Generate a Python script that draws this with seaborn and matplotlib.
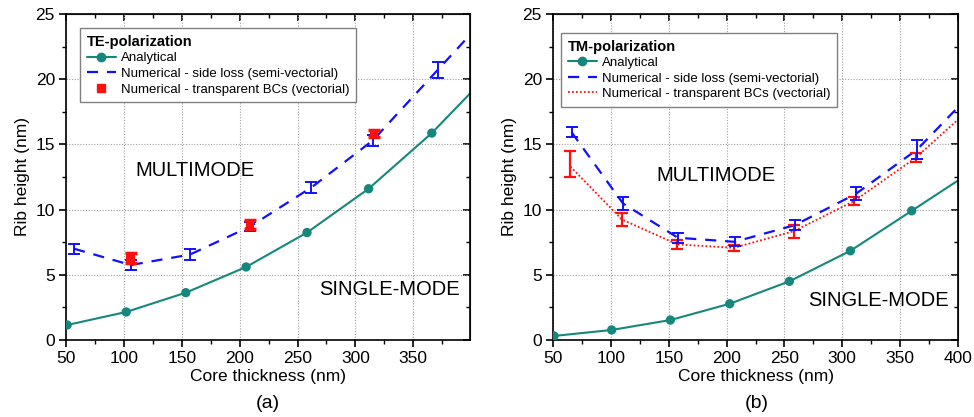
import numpy as np
import pandas as pd
import matplotlib
matplotlib.use("Agg")
import matplotlib.pyplot as plt
import seaborn as sns
from matplotlib.lines import Line2D
from matplotlib.ticker import MultipleLocator

# ---------------- data ----------------
# TE polarization
te_ana_x = [51, 102, 153.5, 205.6, 258.2, 311.4, 366, 399]
te_ana_y = [1.15, 2.15, 3.63, 5.6, 8.24, 11.6, 15.87, 18.9]
te_ana_marked = [True, True, True, True, True, True, True, False]

te_side_x = [57, 106, 157, 209, 262, 315, 371, 399]
te_side_y = [7.0, 5.75, 6.55, 8.7, 11.7, 15.3, 20.7, 23.4]
te_side_err = [0.4, 0.35, 0.4, 0.35, 0.42, 0.4, 0.6, 0.0]
te_side_has_err = [True, True, True, True, True, True, True, False]

te_tbc_x = [106, 209, 316]
te_tbc_y = [6.27, 8.88, 15.82]
te_tbc_err = [0.4, 0.35, 0.25]

# TM polarization
tm_ana_x = [50.9, 100.7, 151.4, 202.7, 254.3, 307, 360, 400]
tm_ana_y = [0.31, 0.77, 1.53, 2.78, 4.5, 6.84, 9.91, 12.23]
tm_ana_marked = [True, True, True, True, True, True, True, False]

tm_side_x = [66, 110.5, 158, 207, 259, 311.6, 364.6, 400]
tm_side_y = [15.94, 10.47, 7.84, 7.53, 8.81, 11.2, 14.6, 17.85]
tm_side_err = [0.4, 0.5, 0.4, 0.35, 0.4, 0.5, 0.7, 0.0]
tm_side_has_err = [True, True, True, True, True, True, True, False]

tm_tbc_x = [65, 109.6, 157.5, 206.4, 258.3, 310.1, 363.4, 400]
tm_tbc_y = [13.3, 9.24, 7.33, 7.07, 8.35, 10.65, 13.97, 16.9]
tm_tbc_err_lo = [0.8, 0.5, 0.33, 0.25, 0.55, 0.3, 0.35, 0.0]
tm_tbc_err_hi = [1.2, 0.5, 0.33, 0.25, 0.45, 0.3, 0.35, 0.0]
tm_tbc_has_err = [True, True, True, True, True, True, True, False]

TEAL = "#16877d"
BLUE = "#1010ff"
RED = "#ff1010"

sns.set_style("ticks")
plt.rcParams["font.family"] = ["Liberation Sans", "DejaVu Sans"]
plt.rcParams["text.color"] = "black"
plt.rcParams["axes.labelcolor"] = "black"
plt.rcParams["xtick.color"] = "black"
plt.rcParams["ytick.color"] = "black"
plt.rcParams["legend.labelcolor"] = "black"

fig = plt.figure(figsize=(9.74, 4.17), dpi=100)
axL = fig.add_axes([66 / 974, 1 - 340 / 417, 404 / 974, 326 / 417])
axR = fig.add_axes([553 / 974, 1 - 340 / 417, 405 / 974, 326 / 417])


def style_axes(ax, xmax, xticks):
    ax.set_xlim(50, xmax)
    ax.set_ylim(0, 25)
    ax.set_xticks(xticks)
    ax.set_yticks([0, 5, 10, 15, 20, 25])
    ax.xaxis.set_minor_locator(MultipleLocator(25))
    ax.yaxis.set_minor_locator(MultipleLocator(2.5))
    ax.grid(True, which="major", linestyle=(0, (1, 1.5)), color="#a0a0a0", linewidth=0.8)
    ax.tick_params(axis="both", which="major", direction="out", length=5, width=1.2,
                   labelsize=12.5, color="black", labelcolor="black", pad=3)
    ax.tick_params(axis="both", which="minor", direction="out", length=3, width=1.0,
                   color="black")
    for s in ax.spines.values():
        s.set_linewidth(1.2)
        s.set_color("black")
        s.set_visible(True)
    # mirrored inward ticks on top / right
    top = ax.secondary_xaxis("top")
    top.set_xticks(xticks)
    top.xaxis.set_minor_locator(MultipleLocator(25))
    top.tick_params(which="major", direction="in", length=5, width=1.2, labeltop=False)
    top.tick_params(which="minor", direction="in", length=3, width=1.0, labeltop=False)
    right = ax.secondary_yaxis("right")
    right.set_yticks([0, 5, 10, 15, 20, 25])
    right.yaxis.set_minor_locator(MultipleLocator(2.5))
    right.tick_params(which="major", direction="in", length=5, width=1.2, labelright=False)
    right.tick_params(which="minor", direction="in", length=3, width=1.0, labelright=False)


def draw_analytical(ax, xs, ys, marked):
    df = pd.DataFrame({"x": xs, "y": ys, "m": marked})
    sns.lineplot(data=df, x="x", y="y", ax=ax, color=TEAL, linewidth=1.5,
                 sort=False, estimator=None)
    dm = df[df["m"]]
    sns.scatterplot(data=dm, x="x", y="y", ax=ax, color=TEAL, s=45,
                    edgecolor="none", zorder=4)


def draw_side(ax, xs, ys, errs, has_err):
    df = pd.DataFrame({"x": xs, "y": ys, "e": errs, "h": has_err})
    sns.lineplot(data=df, x="x", y="y", ax=ax, color=BLUE, linewidth=1.6,
                 sort=False, estimator=None, dashes=False)
    ax.lines[-1].set_dashes((5, 4))
    de = df[df["h"]]
    ax.errorbar(de["x"], de["y"], yerr=de["e"], fmt="none", ecolor=BLUE,
                elinewidth=1.4, capsize=4, capthick=1.4, zorder=5)


def finish_labels(ax):
    ax.set_xlabel("Core thickness (nm)", fontsize=12.5, labelpad=2, color="black")
    ax.set_ylabel("Rib height (nm)", fontsize=12.5, labelpad=4, color="black")


# ---------------- left panel (TE) ----------------
style_axes(axL, 399, [50, 100, 150, 200, 250, 300, 350])
draw_analytical(axL, te_ana_x, te_ana_y, te_ana_marked)
draw_side(axL, te_side_x, te_side_y, te_side_err, te_side_has_err)
dt = pd.DataFrame({"x": te_tbc_x, "y": te_tbc_y, "e": te_tbc_err})
axL.errorbar(dt["x"], dt["y"], yerr=dt["e"], fmt="none", ecolor=RED,
             elinewidth=2.5, capsize=4, capthick=2.5, zorder=6)
sns.scatterplot(data=dt, x="x", y="y", ax=axL, color=RED, marker="s", s=40,
                edgecolor="none", zorder=7)
finish_labels(axL)
axL.text(110, 13.0, "MULTIMODE", fontsize=14.5, va="center", ha="left", color="black")
axL.text(390, 3.9, "SINGLE-MODE", fontsize=14.5, va="center", ha="right", color="black")

handlesL = [
    Line2D([], [], color=TEAL, marker="o", markersize=6, linewidth=1.5),
    Line2D([], [], color=BLUE, linewidth=1.6, dashes=(5, 4)),
    Line2D([], [], color=RED, marker="s", markersize=6, linestyle="none"),
]
labelsL = ["Analytical", "Numerical - side loss (semi-vectorial)",
           "Numerical - transparent BCs (vectorial)"]
legL = axL.legend(handlesL, labelsL, title="TE-polarization", loc="upper left",
                  bbox_to_anchor=(0.035, 0.956), borderaxespad=0, fontsize=9.5,
                  title_fontproperties={"weight": "bold", "size": 10.5},
                  frameon=True, fancybox=False, edgecolor="#808080",
                  framealpha=1, handlelength=2.2, handletextpad=0.4,
                  labelspacing=0.25, borderpad=0.5, alignment="left")
legL.get_frame().set_linewidth(1.0)

# ---------------- right panel (TM) ----------------
style_axes(axR, 400, [50, 100, 150, 200, 250, 300, 350, 400])
draw_analytical(axR, tm_ana_x, tm_ana_y, tm_ana_marked)
draw_side(axR, tm_side_x, tm_side_y, tm_side_err, tm_side_has_err)
dr = pd.DataFrame({"x": tm_tbc_x, "y": tm_tbc_y, "lo": tm_tbc_err_lo,
                   "hi": tm_tbc_err_hi, "h": tm_tbc_has_err})
sns.lineplot(data=dr, x="x", y="y", ax=axR, color=RED, linewidth=1.3,
             sort=False, estimator=None)
axR.lines[-1].set_linestyle((0, (1, 1.2)))
dre = dr[dr["h"]]
axR.errorbar(dre["x"], dre["y"], yerr=[dre["lo"], dre["hi"]], fmt="none",
             ecolor=RED, elinewidth=1.6, capsize=4, capthick=1.6, zorder=4)
finish_labels(axR)
axR.text(139, 12.6, "MULTIMODE", fontsize=14.5, va="center", ha="left", color="black")
axR.text(392, 3.0, "SINGLE-MODE", fontsize=14.5, va="center", ha="right", color="black")

handlesR = [
    Line2D([], [], color=TEAL, marker="o", markersize=6, linewidth=1.5),
    Line2D([], [], color=BLUE, linewidth=1.6, dashes=(5, 4)),
    Line2D([], [], color=RED, linewidth=1.3, linestyle=(0, (1, 1.2))),
]
labelsR = ["Analytical", "Numerical - side loss (semi-vectorial)",
           "Numerical - transparent BCs (vectorial)"]
legR = axR.legend(handlesR, labelsR, title="TM-polarization", loc="upper left",
                  bbox_to_anchor=(0.02, 0.942), borderaxespad=0, fontsize=9.5,
                  title_fontproperties={"weight": "bold", "size": 10.5},
                  frameon=True, fancybox=False, edgecolor="#808080",
                  framealpha=1, handlelength=2.2, handletextpad=0.4,
                  labelspacing=0.25, borderpad=0.5, alignment="left")
legR.get_frame().set_linewidth(1.0)

fig.text(268 / 974, 1 - 404 / 417, "(a)", fontsize=14, ha="center", va="center")
fig.text(757 / 974, 1 - 404 / 417, "(b)", fontsize=14, ha="center", va="center")

fig.savefig("out.png", dpi=100)
